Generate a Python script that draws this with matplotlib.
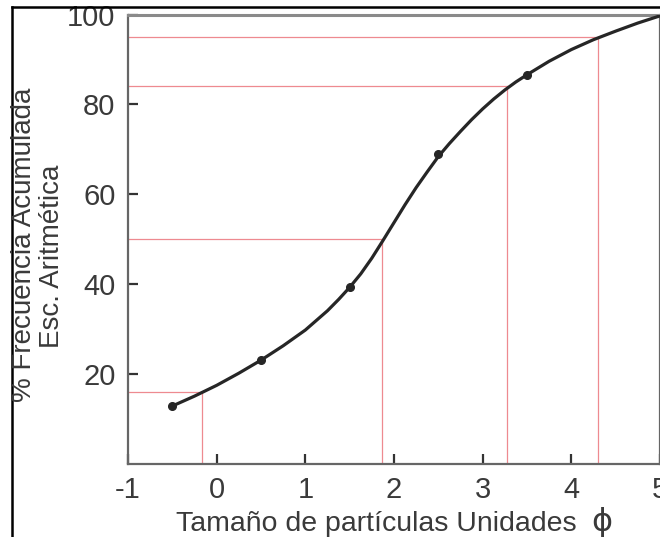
import matplotlib
matplotlib.use("Agg")
import matplotlib.pyplot as plt
from matplotlib.lines import Line2D

plt.rcParams['font.family'] = ['Liberation Sans', 'DejaVu Sans']
plt.rcParams['axes.unicode_minus'] = False

# measured sample points (phi, cumulative %)
sample_phi = [-0.5, 0.5, 1.5, 2.5, 3.5]
sample_pct = [12.9, 23.1, 39.3, 68.9, 86.6]

# curve
curve_phi = [-0.5, -0.25, 0.0, 0.25, 0.5, 0.75, 1.0, 1.25, 1.375, 1.5, 1.625,
             1.75, 1.875, 2.0, 2.125, 2.25, 2.375, 2.5, 2.625, 2.75, 2.875,
             3.0, 3.125, 3.25, 3.375, 3.5, 3.75, 4.0, 4.25, 4.5, 4.75, 5.0]
curve_pct = [12.9, 15.1, 17.5, 20.2, 23.1, 26.3, 29.8, 34.1, 36.6, 39.3, 42.3,
             45.8, 49.7, 53.7, 57.7, 61.5, 65.0, 68.4, 71.3, 74.0, 76.6,
             79.0, 81.2, 83.2, 85.0, 86.6, 89.6, 92.2, 94.4, 96.3, 98.1, 99.7]

# percentile readings
perc_pct = [16, 50, 84, 95]
perc_phi = [-0.16, 1.87, 3.28, 4.3]

x_ticks = [-1, 0, 1, 2, 3, 4, 5]
y_ticks = [20, 40, 60, 80, 100]

W, H = 660, 537
fig = plt.figure(figsize=(W / 100, H / 100), dpi=100)
fig.patch.set_facecolor('white')

left, right, bottom, top = 128, 660, 464, 14.5
ax = fig.add_axes([left / W, 1 - bottom / H, (right - left) / W, (bottom - top) / H])

red = '#ee8a90'
for p, q in zip(perc_phi, perc_pct):
    ax.plot([-1, p], [q, q], color=red, lw=0.9, zorder=1)
    ax.plot([p, p], [0, q], color=red, lw=0.9, zorder=1)

ax.plot(curve_phi, curve_pct, color='#262626', lw=2.3, solid_capstyle='round',
        solid_joinstyle='round', zorder=3)
ax.plot(sample_phi, sample_pct, 'o', color='#262626', ms=5.5, zorder=4)

ax.set_xlim(-1, 5)
ax.set_ylim(0, 100)
ax.set_xticks(x_ticks)
ax.set_yticks(y_ticks)
ax.tick_params(axis='both', direction='in', length=7, width=1.6, color='#333333',
               labelsize=21, labelcolor='#3a3a3a')
ax.tick_params(axis='y', pad=9)
ax.tick_params(axis='x', pad=9)

for name, sp in ax.spines.items():
    sp.set_color('#666666')
    sp.set_linewidth(1.6)
ax.spines['top'].set_color('#8a8a8a')
ax.spines['top'].set_linewidth(2.2)

fig.text(24 / W, 1 - 245 / H, '% Frecuencia Acumulada', rotation=90,
         ha='center', va='center', fontsize=20, color='#3a3a3a')
fig.text(52 / W, 1 - 256 / H, 'Esc. Aritmética', rotation=90,
         ha='center', va='center', fontsize=20, color='#3a3a3a')
fig.text(376 / W, 1 - 524 / H, 'Tamaño de partículas Unidades',
         ha='center', va='center', fontsize=20.5, color='#3a3a3a')
fig.text(602 / W, 1 - 522 / H, 'ϕ', family=['DejaVu Sans'],
         ha='center', va='center', fontsize=23, color='#3a3a3a')

# outer frame (left and top edges)
fig.add_artist(Line2D([12 / W, 12 / W], [0, 1 - 7 / H], color='black', lw=1.8,
                      transform=fig.transFigure))
fig.add_artist(Line2D([12 / W, 1], [1 - 7 / H, 1 - 7 / H], color='black', lw=1.8,
                      transform=fig.transFigure))

fig.savefig('out.png', dpi=100)
plt.close(fig)
